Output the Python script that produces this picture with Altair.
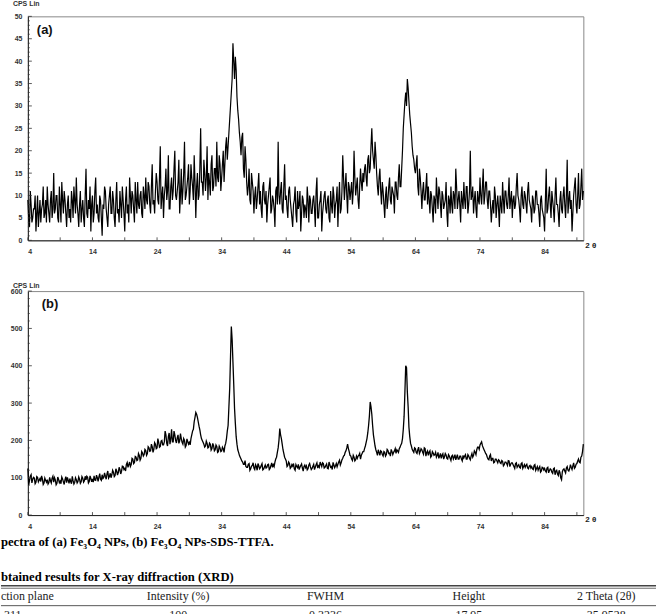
import altair as alt
import pandas as pd

# ---------------- data ----------------
two_theta_start = 4.0
two_theta_step = 0.25      # main samples at 4.00, 4.25, ...
mid_offset = 0.125         # extra samples at 4.125, 4.375, ...

# (a) Fe3O4 NPs, CPS read every 0.25 deg from 4 to 90
cps_a = [
    9, 3, 8, 5,   7, 2, 10, 6,   4, 8, 5, 9,   12, 6, 9, 5,   15, 7, 10, 4,
    8, 13, 6, 9,   3, 10, 7, 11,   5, 9, 14, 6,   8, 4, 9, 3,   16, 5, 7, 2,
    10, 6, 14, 8,   4, 9, 1, 7,   11, 5, 8, 12,   6, 9, 3, 13,   7, 11, 5, 9,
    2, 12, 8, 14,   6, 10, 4, 9,   13, 7, 11, 5,   10, 14, 8, 12,   6, 17, 9, 11,
    13, 8, 21, 10,   5, 12, 9, 19,   7, 14, 11, 20,   9, 13, 6, 16,   11, 22, 10, 14,
    8, 17, 12, 19,   5, 15, 10, 25,   13, 18, 11, 21,   15, 10, 19, 12,   16, 22, 13, 17,
    14, 20, 17, 23,   21, 27, 33, 44,   36, 38, 29, 24,   19, 24, 14, 18,   10, 16, 8, 13,
    6, 12, 9, 15,   11, 5, 13, 8,   4, 10, 14, 7,   9, 3, 12, 22,   8, 13, 6, 17,
    10, 5, 12, 7,   3, 9, 6, 11,   8, 2, 10, 5,   7, 12, 4, 9,   6, 10, 3, 14,
    5, 9, 2, 8,   11, 6, 10, 4,   8, 12, 5, 9,   3, 13, 7, 19,   9, 15, 6, 12,
    11, 8, 20, 10,   14, 7, 16, 11,   13, 17, 12, 19,   16, 25, 18, 22,   15, 10, 16, 8,
    11, 5, 12, 9,   14, 8, 11, 6,   13, 9, 17, 12,   20, 28, 33, 36,   31, 26, 21, 18,
    15, 19, 10, 14,   7, 13, 9, 15,   12, 6, 10, 4,   9, 14, 7, 11,   5, 10, 8, 13,
    3, 9, 12, 6,   10, 16, 7, 11,   4, 9, 13, 7,   12, 8, 20, 10,   6, 11, 5, 9,
    14, 8, 16, 10,   13, 7, 11, 4,   9, 12, 5, 10,   3, 8, 13, 6,   11, 7, 14, 9,
    5, 10, 8, 15,   9, 4, 12, 7,   10, 6, 13, 8,   4, 9, 7, 11,   8, 3, 10, 6,
    2, 16, 7, 12,   5, 9, 4, 14,   8, 3, 11, 6,   12, 5, 18, 9,   7, 2, 10, 14,
    6, 15, 8, 16,   11,
]
# (a) values in between, at 4.125, 4.375, ... 89.875
cps_a_mid = [
    5, 11, 4, 7,   10, 6, 3, 9,   7, 12, 6, 4,   8, 4, 11, 7,   6, 10, 5, 12,
    4, 9, 11, 6,   8, 5, 4, 9,   12, 6, 8, 3,   11, 7, 5, 10,   6, 9, 12, 8,
    4, 11, 6, 5,   10, 5, 8, 12,   7, 3, 10, 6,   11, 5, 9, 6,   4, 8, 12, 6,
    9, 6, 4, 10,   11, 7, 13, 6,   8, 10, 6, 12,   7, 9, 13, 8,   12, 8, 6, 15,
    9, 14, 7, 12,   10, 16, 11, 7,   12, 9, 16, 10,   11, 18, 10, 8,   15, 9, 12, 17,
    11, 14, 9, 13,   12, 9, 16, 13,   10, 15, 14, 9,   13, 17, 11, 16,   12, 14, 19, 11,
    17, 13, 21, 18,   24, 30, 36, 40,   41, 32, 27, 22,   23, 16, 21, 13,   12, 9, 15, 11,
    10, 7, 12, 8,   7, 12, 9, 11,   8, 12, 6, 10,   7, 11, 8, 10,   11, 7, 12, 9,
    7, 11, 9, 5,   8, 12, 4, 7,   11, 6, 9, 8,   5, 9, 10, 6,   9, 7, 11, 5,
    8, 11, 6, 10,   7, 9, 5, 11,   6, 10, 8, 12,   9, 6, 11, 14,   12, 10, 13, 9,
    13, 11, 14, 12,   9, 12, 13, 15,   16, 14, 18, 15,   21, 20, 16, 19,   12, 14, 11, 13,
    8, 10, 7, 12,   9, 12, 10, 13,   10, 14, 12, 16,   25, 31, 30, 34,   28, 24, 19, 16,
    17, 12, 16, 11,   11, 9, 12, 8,   9, 11, 7, 10,   6, 10, 12, 8,   11, 7, 9, 6,
    10, 6, 8, 11,   7, 12, 9, 8,   11, 7, 9, 12,   6, 11, 9, 12,   9, 7, 11, 8,
    10, 12, 8, 13,   9, 11, 8, 7,   6, 10, 8, 7,   10, 6, 9, 11,   8, 10, 7, 11,
    9, 7, 12, 10,   7, 10, 8, 11,   8, 11, 9, 7,   10, 6, 11, 8,   6, 9, 7, 5,
    9, 6, 10, 8,   11, 7, 10, 8,   6, 9, 7, 10,   8, 10, 6, 11,   9, 6, 12, 8,
    10, 7, 12, 9,
]

# (b) Fe3O4 NPs-SDS-TTFA, CPS read every 0.25 deg from 4 to 90
cps_b = [
    125, 92, 108, 96,   99, 88, 101, 94,   90, 97, 86, 93,   95, 87, 92, 99,
    88, 94, 85, 96,   91, 102, 89, 95,   87, 93, 98, 84,   92, 88, 95, 90,
    96, 89, 99, 92,   94, 101, 90, 98,   97, 105, 93, 100,   102, 96, 108, 101,
    104, 110, 99, 112,   108, 115, 106, 118,   114, 122, 117, 130,   125, 136, 128, 142,
    135, 150, 141, 155,   148, 160, 152, 166,   162, 173, 165, 180,   172, 183, 176, 190,
    180, 195, 184, 200,   188, 225, 192, 210,   190, 230, 196, 215,   193, 215, 198, 205,
    190, 200, 186, 197,   195, 205, 225, 250,   275, 262, 238, 215,   200, 190, 185, 192,
    182, 190, 178, 186,   175, 184, 170, 180,   172, 178, 185, 205,   240, 340, 505, 410,
    285, 210, 175, 160,   150, 142, 136, 130,   128, 138, 124, 133,   126, 135, 120, 132,
    127, 138, 123, 134,   128, 136, 125, 140,   135, 142, 155, 180,   232, 205, 175, 155,
    145, 133, 138, 128,   131, 124, 135, 127,   122, 133, 126, 130,   127, 121, 134, 129,
    125, 136, 128, 140,   132, 142, 130, 138,   128, 137, 124, 135,   130, 141, 127, 138,
    136, 147, 140, 152,   160, 172, 190, 170,   158, 146, 155, 148,   152, 160, 150, 165,
    170, 185, 205, 240,   303, 270, 215, 185,   168, 175, 160, 170,   158, 168, 162, 173,
    166, 176, 162, 172,   165, 172, 178, 188,   205, 265, 400, 330,   235, 192, 176, 168,
    178, 165, 182, 170,   175, 163, 178, 168,   160, 172, 158, 166,   162, 155, 168, 158,
    152, 164, 156, 161,   150, 158, 146, 160,   155, 148, 162, 150,   158, 145, 153, 162,
    150, 158, 148, 165,   160, 168, 175, 182,   188, 196, 180, 170,   162, 150, 158, 145,
    152, 142, 150, 140,   146, 138, 144, 135,   142, 133, 145, 136,   140, 130, 138, 128,
    135, 126, 140, 130,   128, 136, 124, 133,   130, 122, 135, 125,   120, 130, 118, 127,
    125, 115, 128, 119,   122, 112, 126, 118,   110, 120, 100, 116,   124, 113, 130, 118,
    135, 122, 140, 128,   138, 150, 140, 158,   190,
]
# (b) values in between, at 4.125, 4.375, ... 89.875
cps_b_mid = [
    80, 104, 86, 101,   84, 103, 89, 98,   105, 82, 99, 88,   83, 101, 86, 104,
    100, 81, 102, 87,   84, 97, 82, 103,   101, 85, 90, 104,   83, 100, 86, 102,
    85, 103, 88, 104,   104, 86, 105, 89,   88, 94, 107, 90,   111, 93, 98, 113,
    96, 118, 103, 100,   120, 103, 124, 107,   128, 110, 131, 122,   118, 141, 135, 130,
    152, 138, 157, 146,   165, 147, 170, 158,   176, 160, 183, 171,   190, 168, 194, 178,
    205, 182, 198, 188,   196, 215, 185, 220,   205, 196, 225, 200,   207, 192, 218, 195,
    205, 182, 204, 190,   188, 215, 230, 262,   270, 250, 228, 205,   195, 182, 198, 180,
    193, 174, 192, 172,   188, 168, 185, 170,   182, 168, 192, 225,   290, 425, 470, 350,
    245, 190, 168, 155,   145, 136, 146, 128,   136, 120, 131, 140,   122, 130, 138, 124,
    133, 121, 129, 126,   135, 122, 132, 128,   130, 150, 168, 200,   215, 190, 165, 150,
    130, 142, 125, 135,   138, 120, 130, 136,   128, 137, 118, 134,   132, 124, 138, 122,
    131, 122, 135, 126,   128, 136, 140, 126,   133, 125, 142, 128,   122, 134, 132, 129,
    142, 134, 148, 158,   168, 180, 178, 160,   150, 160, 145, 158,   158, 165, 160, 170,
    178, 195, 220, 265,   290, 240, 200, 175,   160, 168, 172, 162,   170, 158, 176, 165,
    158, 170, 168, 178,   175, 168, 182, 192,   230, 330, 395, 290,   210, 185, 172, 180,
    168, 175, 165, 178,   168, 180, 158, 172,   168, 155, 170, 160,   168, 160, 152, 165,
    160, 150, 165, 152,   162, 152, 158, 150,   162, 155, 150, 158,   150, 160, 158, 150,
    162, 152, 158, 155,   172, 162, 182, 176,   192, 186, 175, 165,   155, 148, 162, 152,
    140, 150, 145, 148,   140, 146, 132, 142,   138, 146, 130, 140,   135, 125, 140, 132,
    128, 138, 125, 135,   133, 126, 131, 126,   124, 133, 120, 130,   126, 115, 128, 121,
    118, 126, 113, 124,   115, 124, 108, 120,   106, 114, 95, 122,   118, 126, 120, 124,
    128, 132, 125, 136,   145, 142, 155, 170,
]

x_domain = [4, 90]
x_tick_labels = [4, 14, 24, 34, 44, 54, 64, 74, 84]
x_tick_marks = [4, 9, 14, 19, 24, 29, 34, 39, 44, 49, 54, 59, 64, 69, 74, 79, 84, 89]
y_labels_a = [0, 5, 10, 15, 20, 25, 30, 35, 40, 45, 50]
y_minor_a = list(range(0, 51))
y_labels_b = [0, 100, 200, 300, 400, 500, 600]
y_minor_b = list(range(0, 601, 20))

panel_labels = ["(a)", "(b)"]
y_unit = "CPS Lin"
x_unit = "2 θ"
caption = "pectra of (a) Fe₃O₄ NPs, (b) Fe₃O₄ NPs-SDS-TTFA."
table_title = "btained results for X-ray diffraction (XRD)"
table_header = ["ction plane", "Intensity (%)", "FWHM", "Height", "2 Theta (2θ)"]
table_row = ["311", "100", "0.3236", "17.95", "35.9528"]

# ---------------- layout ----------------
W, H = 558, 225
SANS = "Liberation Sans"
SERIF = "Liberation Serif"


def frame(values, mids):
    t = [two_theta_start + two_theta_step * i for i in range(len(values))]
    tm = [two_theta_start + mid_offset + two_theta_step * i for i in range(len(mids))]
    df = pd.DataFrame({"t": t + tm, "c": list(values) + list(mids)})
    return df.sort_values("t").reset_index(drop=True)


def txt(s, x, y, size, bold=True, font=SANS, align="left", baseline="alphabetic", color="#111"):
    return alt.Chart(pd.DataFrame({"s": [s]})).mark_text(
        font=font, fontSize=size, fontWeight="bold" if bold else "normal",
        align=align, baseline=baseline, color=color,
    ).encode(text="s:N", x=alt.value(x), y=alt.value(y))


def panel(values, mids, ymax, ylabels, yminor, ymajor_step, label, stroke_w, cps_y, label_xy, unit_y):
    xs = alt.Scale(domain=x_domain, nice=False, zero=False)
    ys = alt.Scale(domain=[0, ymax], nice=False, zero=True)
    common = dict(
        ticks=False, grid=False, domainColor="#222", domainWidth=1,
        labelFont=SANS, labelFontSize=7, labelFontWeight="bold", labelColor="#333",
        title=None,
    )
    x_axis = alt.Axis(values=x_tick_labels, labelPadding=7, **common)
    y_axis = alt.Axis(values=ylabels, labelPadding=6, **common)
    line = alt.Chart(frame(values, mids)).mark_line(color="#000", strokeWidth=stroke_w).encode(
        x=alt.X("t:Q", scale=xs, axis=x_axis),
        y=alt.Y("c:Q", scale=ys, axis=y_axis),
    )
    xt = alt.Chart(pd.DataFrame({"t": x_tick_marks})).mark_rule(color="#333", strokeWidth=0.8).encode(
        x=alt.X("t:Q", scale=xs, axis=x_axis), y=alt.value(H), y2=alt.value(H - 3)
    )
    minor = [v for v in yminor if v % ymajor_step != 0]
    yt_minor = alt.Chart(pd.DataFrame({"c": minor})).mark_rule(color="#333", strokeWidth=0.7).encode(
        y=alt.Y("c:Q", scale=ys, axis=y_axis), x=alt.value(0), x2=alt.value(2)
    )
    yt_major = alt.Chart(pd.DataFrame({"c": ylabels})).mark_rule(color="#333", strokeWidth=0.8).encode(
        y=alt.Y("c:Q", scale=ys, axis=y_axis), x=alt.value(0), x2=alt.value(4)
    )
    return [
        line, xt, yt_minor, yt_major,
        txt(label, label_xy[0], label_xy[1], 13, baseline="middle"),
        txt(y_unit, -15, cps_y, 7, color="#333"),
        txt(x_unit, W + 2, unit_y, 8, baseline="middle", color="#222"),
    ]


la = panel(cps_a, cps_a_mid, 50, y_labels_a, y_minor_a, 5, panel_labels[0], 1.2, -10, (9, 14), H + 6)
lb = panel(cps_b, cps_b_mid, 600, y_labels_b, y_minor_b, 100, panel_labels[1], 1.3, -3, (14, 13), H + 5)

# caption and table fragment below panel (b)
extra = [
    txt(caption, -27, 256, 12.7, font=SERIF, color="#000"),
    txt(table_title, -27, 291, 12.7, font=SERIF, color="#000"),
]
for yy, w in [(296, 1.4), (298.5, 0.8), (316, 0.9)]:
    extra.append(
        alt.Chart(pd.DataFrame({"k": [0]})).mark_rule(color="#444", strokeWidth=w).encode(
            x=alt.value(-27), x2=alt.value(W + 73), y=alt.value(yy)
        )
    )
hdr_x = [(-27, "left"), (151, "center"), (299, "center"), (443, "center"), (581, "center")]
row_x = [(-24, "left"), (151, "center"), (299, "center"), (443, "center"), (581, "center")]
for s, (xx, al) in zip(table_header, hdr_x):
    extra.append(txt(s, xx, 310, 12, bold=False, font=SERIF, align=al, color="#222"))
for s, (xx, al) in zip(table_row, row_x):
    extra.append(txt(s, xx, 329, 12, bold=False, font=SERIF, align=al, color="#222"))

chart_a = alt.layer(*la).properties(width=W, height=H)
chart_b = alt.layer(*(lb + extra)).properties(width=W, height=H)

chart = alt.vconcat(chart_a, chart_b, spacing=51, bounds="flush").properties(
    padding={"left": -1, "top": -2, "right": 0, "bottom": 0},
    background="white",
).configure_view(stroke="#888", strokeWidth=1)

chart.save("out.html", embed_options={"renderer": "svg", "actions": False})
